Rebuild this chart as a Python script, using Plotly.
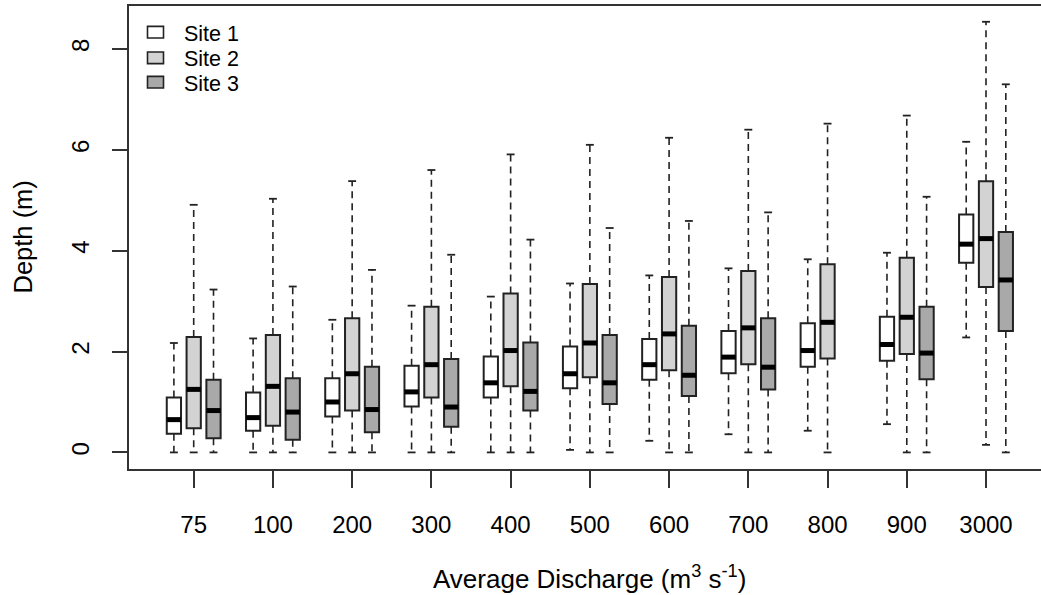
import plotly.graph_objects as go

# Average discharge classes (m3 s-1)
discharge = ["75", "100", "200", "300", "400", "500", "600", "700", "800", "900", "3000"]
sites = ["Site 1", "Site 2", "Site 3"]

# Boxplot summaries of depth (m) for each site and discharge class
site1_lower = [0.00, 0.00, 0.00, 0.00, 0.00, 0.05, 0.23, 0.36, 0.43, 0.56, 2.28]
site1_q1 = [0.37, 0.43, 0.71, 0.91, 1.09, 1.27, 1.44, 1.57, 1.70, 1.82, 3.76]
site1_median = [0.65, 0.69, 1.00, 1.20, 1.38, 1.56, 1.74, 1.89, 2.02, 2.14, 4.13]
site1_q3 = [1.09, 1.19, 1.47, 1.72, 1.90, 2.10, 2.25, 2.41, 2.56, 2.69, 4.72]
site1_upper = [2.17, 2.26, 2.63, 2.91, 3.09, 3.35, 3.51, 3.65, 3.83, 3.96, 6.16]

site2_lower = [0.00, 0.00, 0.00, 0.00, 0.00, 0.00, 0.00, 0.00, 0.00, 0.00, 0.15]
site2_q1 = [0.48, 0.53, 0.83, 1.09, 1.31, 1.49, 1.63, 1.75, 1.86, 1.95, 3.28]
site2_median = [1.25, 1.31, 1.56, 1.74, 2.02, 2.17, 2.35, 2.47, 2.58, 2.68, 4.24]
site2_q3 = [2.29, 2.33, 2.66, 2.89, 3.15, 3.34, 3.48, 3.60, 3.73, 3.86, 5.38]
site2_upper = [4.91, 5.03, 5.38, 5.60, 5.91, 6.10, 6.24, 6.40, 6.52, 6.68, 8.54]

# No Site 3 record for the 800 class
site3_lower = [0.00, 0.00, 0.00, 0.00, 0.00, 0.00, 0.00, 0.00, None, 0.00, 0.00]
site3_q1 = [0.28, 0.25, 0.40, 0.51, 0.83, 0.96, 1.12, 1.25, None, 1.45, 2.41]
site3_median = [0.83, 0.80, 0.85, 0.90, 1.21, 1.38, 1.53, 1.69, None, 1.97, 3.42]
site3_q3 = [1.44, 1.47, 1.70, 1.85, 2.18, 2.33, 2.51, 2.66, None, 2.89, 4.37]
site3_upper = [3.23, 3.29, 3.62, 3.92, 4.22, 4.45, 4.59, 4.76, None, 5.07, 7.30]

summaries = [
    (site1_lower, site1_q1, site1_median, site1_q3, site1_upper),
    (site2_lower, site2_q1, site2_median, site2_q3, site2_upper),
    (site3_lower, site3_q1, site3_median, site3_q3, site3_upper),
]
fills = ["#ffffff", "#d3d3d3", "#a9a9a9"]
offsets = [-0.25, 0.0, 0.25]
box_w = 0.18
cap_half = 0.05
edge = "#222222"
font_family = "Liberation Sans, Arial, sans-serif"

# Figure geometry (pixels)
W, H = 1041, 595
M_L, M_R, M_T, M_B = 129, 0, 6, 126
plot_w = W - M_L - M_R
plot_h = H - M_T - M_B


def px_to_paper(px, py):
    return (px - M_L) / plot_w, (H - M_B - py) / plot_h


fig = go.Figure()

# Boxes (interquartile range) as floating bars
for name, (lo, q1, med, q3, hi), fill, off in zip(sites, summaries, fills, offsets):
    xs, base, height = [], [], []
    for i in range(len(discharge)):
        if q1[i] is None:
            continue
        xs.append(i + off)
        base.append(q1[i])
        height.append(q3[i] - q1[i])
    fig.add_trace(go.Bar(
        x=xs, y=height, base=base, width=box_w, name=name,
        marker=dict(color=fill, line=dict(color=edge, width=2)),
        showlegend=False,
    ))

# Whiskers, staples and medians
for (lo, q1, med, q3, hi), off in zip(summaries, offsets):
    wx, wy, cx, cy, mx, my = [], [], [], [], [], []
    for i in range(len(discharge)):
        if q1[i] is None:
            continue
        xc = i + off
        wx += [xc, xc, None, xc, xc, None]
        wy += [q3[i], hi[i], None, q1[i], lo[i], None]
        cx += [xc - cap_half, xc + cap_half, None, xc - cap_half, xc + cap_half, None]
        cy += [hi[i], hi[i], None, lo[i], lo[i], None]
        mx += [xc - box_w / 2, xc + box_w / 2, None]
        my += [med[i], med[i], None]
    fig.add_trace(go.Scatter(x=wx, y=wy, mode="lines", showlegend=False, hoverinfo="skip",
                             line=dict(color=edge, width=1.6, dash="7px,5px")))
    fig.add_trace(go.Scatter(x=cx, y=cy, mode="lines", showlegend=False, hoverinfo="skip",
                             line=dict(color=edge, width=1.8)))
    fig.add_trace(go.Scatter(x=mx, y=my, mode="lines", showlegend=False, hoverinfo="skip",
                             line=dict(color="#000000", width=5)))

# Key in the upper-left corner: swatch plus label for each site
shapes, annotations = [], []
key_rows = [32.2, 57.8, 82.2]
for name, fill, row in zip(sites, fills, key_rows):
    x0, y0 = px_to_paper(147.5, row - 5.8)
    x1, y1 = px_to_paper(163.5, row + 5.8)
    shapes.append(dict(type="rect", xref="paper", yref="paper", x0=x0, x1=x1, y0=y0, y1=y1,
                       fillcolor=fill, line=dict(color=edge, width=1.6), layer="above"))
    tx, ty = px_to_paper(181.5, row + 1.5)
    annotations.append(dict(text=name, xref="paper", yref="paper", x=tx, y=ty,
                            xanchor="left", yanchor="middle", showarrow=False,
                            font=dict(size=21.5)))

xt_x, xt_y = px_to_paper(589, 577)
yt_x, yt_y = px_to_paper(22, 237.5)
annotations += [
    dict(text="Average Discharge (m<sup>3</sup> s<sup>-1</sup>)", xref="paper", yref="paper",
         x=xt_x, y=xt_y, xanchor="center", yanchor="middle", showarrow=False,
         font=dict(size=26)),
    dict(text="Depth (m)", xref="paper", yref="paper", x=yt_x, y=yt_y,
         xanchor="center", yanchor="middle", textangle=-90, showarrow=False,
         font=dict(size=25.5)),
]

fig.update_layout(
    width=W, height=H,
    margin=dict(l=M_L, r=M_R, t=M_T, b=M_B),
    paper_bgcolor="white", plot_bgcolor="white",
    barmode="overlay",
    font=dict(family=font_family, size=24, color="#000000"),
    showlegend=False,
    xaxis=dict(
        range=[-0.8166, 10.694],
        tickmode="array", tickvals=list(range(len(discharge))), ticktext=discharge,
        ticks="outside", ticklen=17, tickwidth=1.5, tickcolor="#333333",
        ticklabelstandoff=16,
        showline=True, mirror=True, linecolor="#333333", linewidth=1.5,
        showgrid=False, zeroline=False,
        tickfont=dict(size=24),
    ),
    yaxis=dict(
        range=[-0.329, 8.853],
        tickmode="array", tickvals=[0, 2, 4, 6, 8],
        ticks="outside", ticklen=15, tickwidth=1.5, tickcolor="#333333",
        tickangle=-90, ticklabelstandoff=14,
        showline=True, mirror=False, linecolor="#333333", linewidth=1.5,
        showgrid=False, zeroline=False,
        tickfont=dict(size=24),
    ),
    shapes=shapes,
    annotations=annotations,
)

fig.write_html("out.html")
